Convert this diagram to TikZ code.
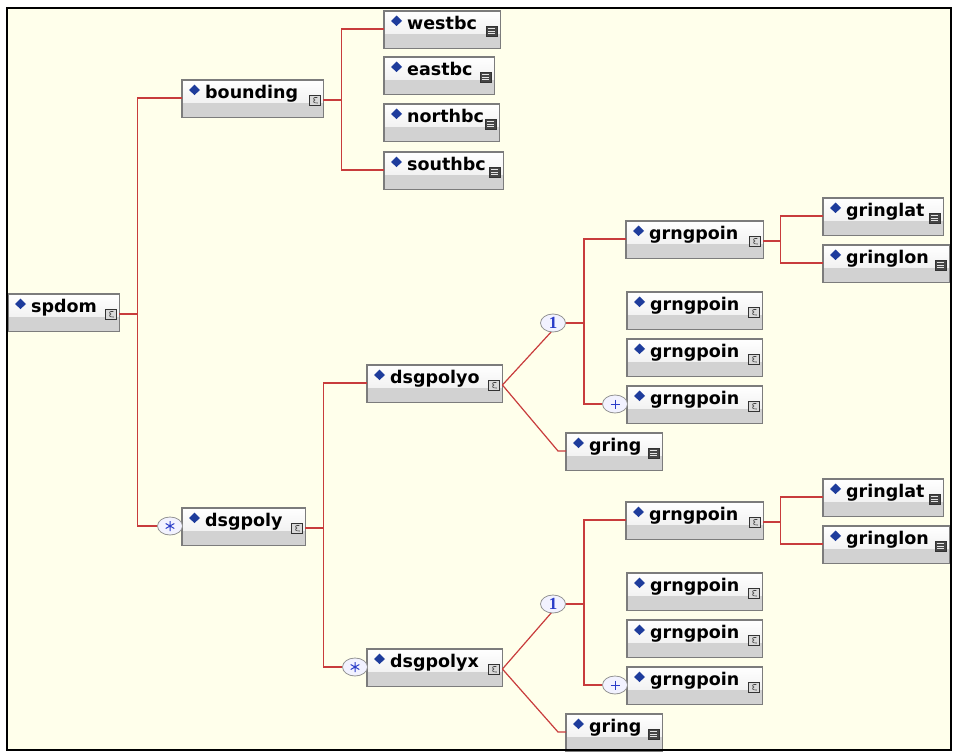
\documentclass[tikz,border=0pt]{standalone}
\usepackage{fontspec}
\setmainfont{DejaVu Sans}
\newfontfamily\numfont{Liberation Serif}
\usetikzlibrary{calc,shapes.geometric}
\definecolor{bg}{HTML}{FFFFEB}
\definecolor{connc}{HTML}{C83C3C}
\definecolor{dia}{HTML}{1E3C9C}
\definecolor{bord}{HTML}{7C7C7C}
\definecolor{lowfill}{HTML}{D2D2D2}
\definecolor{chblue}{HTML}{2A3CC8}
\tikzset{
  conn/.style={draw=connc, line width=1.2pt},
  lbl/.style={font=\bfseries\fontsize{17.5}{20}\selectfont, inner sep=0pt, text=black},
  choice/.style={ellipse, draw=gray!85, fill=blue!5, line width=0.8pt, minimum width=25pt, minimum height=18pt, inner sep=0pt, text=chblue},
  boxframe/.style={draw=bord, line width=1.2pt},
}
\newcommand{\elmiconc}[1]{%
  \begin{scope}[shift={($(#1.north east)+(-14,15)$)}]
    \filldraw[fill=gray!30, draw=gray!40!black, line width=0.6pt] (0,0) rectangle (11,10);
    \draw[line width=0.6pt, black!75] (8,2.5) .. controls (4,1.8) and (3,4) .. (5.5,5) .. controls (3,6) and (4,8.5) .. (8.5,8);
  \end{scope}}
\newcommand{\elmicons}[1]{%
  \begin{scope}[shift={($(#1.north east)+(-14,15)$)}]
    \filldraw[fill=gray!55!black, draw=gray!40!black, line width=0.6pt] (0,0) rectangle (11,10);
    \draw[gray!20, line width=0.8pt] (2,2.5)--(9,2.5) (2,5)--(9,5) (2,7.5)--(9,7.5);
  \end{scope}}
\newcommand{\elem}[6]{%
  \node[inner sep=0pt, minimum width=#4pt, minimum height=37pt, anchor=north west] (#1) at (#2,#3) {};
  \coordinate (#1-l) at ($(#1.north west)+(0,18)$);
  \coordinate (#1-r) at ($(#1.north east)+(0,20)$);
  \fill[lowfill] (#1.north west) rectangle (#1.south east);
  \shade[top color=white, bottom color=gray!10] (#1.north west) rectangle ($(#1.north east)+(0,22)$);
  \draw[boxframe] (#1.north west) rectangle (#1.south east);
  \fill[dia] ($(#1.north west)+(12.5,4.5)$) -- ++(5.5,5.5) -- ++(-5.5,5) -- ++(-5.5,-5) -- cycle;
  \node[lbl, anchor=base west] at ($(#1.north west)+(23,18.5)$) {#5};
  \csname elmicon#6\endcsname{#1}%
}
\newcommand{\starmark}[1]{%
  \draw[chblue, line width=1pt] ($(#1.center)+(0,-5)$) -- ($(#1.center)+(0,5)$)
    ($(#1.center)+(-4.3,-2.5)$) -- ($(#1.center)+(4.3,2.5)$)
    ($(#1.center)+(-4.3,2.5)$) -- ($(#1.center)+(4.3,-2.5)$);}
\newcommand{\grp}[3]{%
  \elem{grA#1}{626}{221+#2}{137}{grngpoin}{c}
  \elem{grB#1}{627}{292+#2}{135}{grngpoin}{c}
  \elem{grC#1}{627}{339+#2}{135}{grngpoin}{c}
  \elem{grD#1}{627}{386+#2}{135}{grngpoin}{c}
  \elem{gring#1}{566}{433+#2}{96}{gring}{s}
  \elem{glat#1}{823}{198+#2}{120}{gringlat}{s}
  \elem{glon#1}{823}{245+#2}{126}{gringlon}{s}
  \draw[conn] (#3-r) -- (552,331+#2);
  \draw[conn] (#3-r) -- ($(gring#1-l)+(-8,0)$) -- (gring#1-l);
  \node[choice, font=\numfont\bfseries\fontsize{17}{17}\selectfont] (one#1) at (553,323+#2) {1};
  \node[choice] (plus#1) at ($(grD#1-l)+(-12,0)$) {};
  \draw[chblue, line width=0.9pt] ($(plus#1.center)+(-4.5,0)$) -- ($(plus#1.center)+(4.5,0)$)
     ($(plus#1.center)+(0,-4.5)$) -- ($(plus#1.center)+(0,4.5)$);
  \draw[conn] (one#1.east) -- ++(18,0) coordinate (tc#1);
  \draw[conn] (grA#1-l) -| (tc#1) |- (plus#1.west);
  \draw[conn] (grA#1-r) -- ++(17,0) coordinate (tg#1);
  \draw[conn] (glat#1-l) -| (tg#1) |- (glon#1-l);
}
\begin{document}
\begin{tikzpicture}[x=1pt,y=-1pt]
\useasboundingbox (0,0) rectangle (953,753);
\fill[white] (0,0) rectangle (953,753);
\fill[bg] (7,8) rectangle (951,750);

\elem{spdom}{8}{294}{111}{spdom}{c}
\elem{bounding}{182}{80}{141}{bounding}{c}
\elem{westbc}{384}{11}{116}{westbc}{s}
\elem{eastbc}{384}{57}{110}{eastbc}{s}
\elem{northbc}{384}{104}{115}{northbc}{s}
\elem{southbc}{384}{152}{119}{southbc}{s}
\elem{dsgpoly}{182}{508}{123}{dsgpoly}{c}
\elem{dsgpolyo}{367}{365}{135}{dsgpolyo}{c}
\elem{dsgpolyx}{367}{649}{135}{dsgpolyx}{c}

\node[choice] (st1) at ($(dsgpoly-l)+(-12,0)$) {};
\starmark{st1}
\node[choice] (st2) at ($(dsgpolyx-l)+(-12,0)$) {};
\starmark{st2}

\draw[conn] (spdom-r) -- ++(18,0) coordinate (t0);
\draw[conn] (bounding-l) -| (t0) |- (st1.west);
\draw[conn] (bounding-r) -- ++(18,0) coordinate (t1);
\draw[conn] (westbc-l) -| (t1) |- (southbc-l);
\draw[conn] (dsgpoly-r) -- ++(18,0) coordinate (t2);
\draw[conn] (dsgpolyo-l) -| (t2) |- (st2.west);

\grp{1}{0}{dsgpolyo}
\grp{2}{281}{dsgpolyx}

\draw[line width=2.5pt] (7,8) rectangle (951,750);
\end{tikzpicture}
\end{document}
